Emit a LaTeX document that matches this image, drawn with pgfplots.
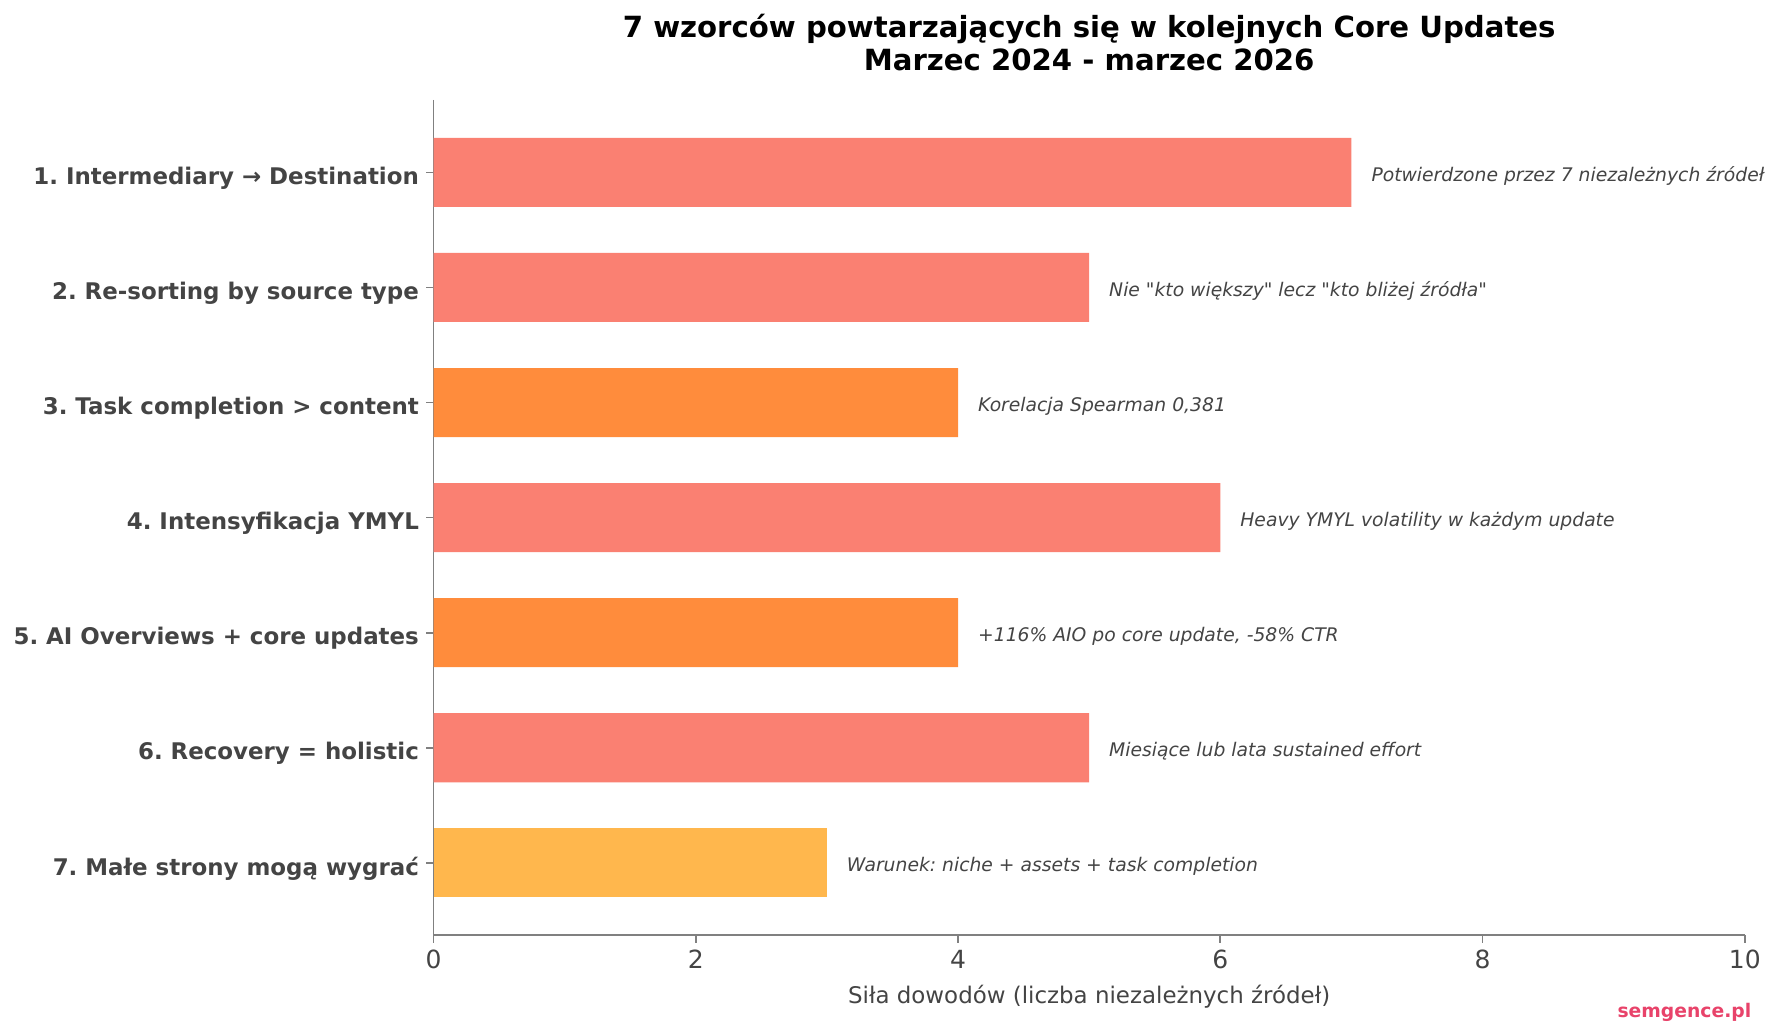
\documentclass[border=0pt]{standalone}
\usepackage{pgfplots}
\pgfplotsset{compat=1.18}
\usepackage{fontspec}
\setmainfont{DejaVu Sans}[Ligatures=TeXOff]
\frenchspacing
\definecolor{salmonc}{HTML}{FA8072}
\definecolor{orangec}{HTML}{FF8C3C}
\definecolor{yellowc}{HTML}{FFB74D}
\definecolor{txt}{HTML}{444444}
\definecolor{spine}{HTML}{808080}
\definecolor{mark}{HTML}{E8436A}
\begin{document}
\begin{tikzpicture}
\path[use as bounding box] (-208.1pt,-47.3pt) rectangle (646.3pt,448.95pt);
\begin{axis}[
  at={(0,0)}, anchor=south west,
  width=629.4pt, height=401pt, scale only axis,
  xmin=0, xmax=10, ymin=-0.63, ymax=6.63, y dir=reverse,
  xbar, bar width=0.6, bar shift=0pt,
  axis x line*=bottom, axis y line*=left,
  axis line style={spine, line width=0.8pt},
  every tick/.style={spine, line width=0.8pt},
  tick align=outside, major tick length=3.5pt,
  xtick={0,2,4,6,8,10},
  ytick={0,1,2,3,4,5,6},
  yticklabels={1. Intermediary → Destination, 2. Re-sorting by source type, 3. Task completion > content, 4. Intensyfikacja YMYL, 5. AI Overviews + core updates, 6. Recovery = holistic, 7. Małe strony mogą wygrać},
  yticklabel style={font=\fontsize{11}{13}\selectfont\bfseries, text=txt, yshift=-2.8pt},
  xticklabel style={font=\fontsize{12}{14}\selectfont, text=txt},
  /pgf/number format/assume math mode=true,
  xlabel={Siła dowodów (liczba niezależnych źródeł)},
  xlabel style={font=\fontsize{11}{13}\selectfont, text=txt, yshift=-1pt},
  clip=false,
]
\addplot[fill=salmonc, draw=none] coordinates {(7,0) (5,1) (6,3) (5,5)};
\addplot[fill=orangec, draw=none] coordinates {(4,2) (4,4)};
\addplot[fill=yellowc, draw=none] coordinates {(3,6)};
\begin{scope}[every node/.style={anchor=west, inner sep=0pt, yshift=-1.6pt, text=txt, font=\fontsize{9}{11}\selectfont\itshape}]
\node at (axis cs:7.15,0) {Potwierdzone przez 7 niezależnych źródeł};
\node at (axis cs:5.15,1) {Nie "kto większy" lecz "kto bliżej źródła"};
\node at (axis cs:4.15,2) {Korelacja Spearman 0,381};
\node at (axis cs:6.15,3) {Heavy YMYL volatility w każdym update};
\node at (axis cs:4.15,4) {+116\% AIO po core update, -58\% CTR};
\node at (axis cs:5.15,5) {Miesiące lub lata sustained effort};
\node at (axis cs:3.15,6) {Warunek: niche + assets + task completion};
\end{scope}
\node[anchor=base, font=\fontsize{14}{16}\selectfont\bfseries] at ([yshift=29.9pt]rel axis cs:0.5,1) {7 wzorców powtarzających się w kolejnych Core Updates};
\node[anchor=base, font=\fontsize{14}{16}\selectfont\bfseries] at ([yshift=13.9pt]rel axis cs:0.5,1) {Marzec 2024 - marzec 2026};
\node[anchor=east, inner sep=0pt, text=mark, font=\fontsize{9}{11}\selectfont\bfseries] at ([xshift=3.3pt,yshift=-37pt]rel axis cs:1,0) {semgence.pl};
\end{axis}
\end{tikzpicture}
\end{document}
